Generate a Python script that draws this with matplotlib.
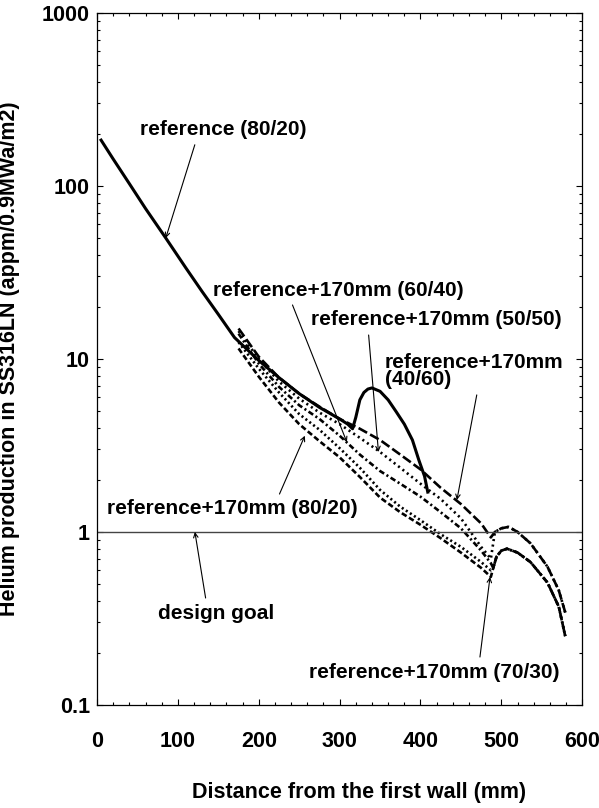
import numpy as np
import matplotlib
matplotlib.use("Agg")
import matplotlib.pyplot as plt
from matplotlib.ticker import MultipleLocator, FixedLocator, FixedFormatter, LogLocator

plt.rcParams['font.family'] = ['Liberation Sans', 'DejaVu Sans']
plt.rcParams['font.weight'] = 'bold'
plt.rcParams['lines.scale_dashes'] = False

# reference blanket (80/20)
ref_x = [5, 20, 40, 60, 85, 110, 130, 150, 170, 200, 225, 250, 275, 300, 310, 316,
         320, 325, 330, 335, 340, 350, 360, 370, 380, 390, 398, 405, 409]
ref_y = [184, 143, 103, 74, 50, 33.5, 24.5, 18.1, 13.3, 9.8, 7.8, 6.3, 5.25, 4.5, 4.2, 3.95,
         4.6, 5.8, 6.4, 6.7, 6.8, 6.5, 5.8, 4.95, 4.2, 3.4, 2.6, 2.1, 1.7]

# reference+170mm, common x up to the step near 490 mm
thick_x = [175, 200, 225, 250, 275, 300, 325, 350, 375, 400, 425, 450, 475, 487]
y_40_60 = [15.0, 10.3, 7.8, 6.3, 5.3, 4.5, 3.95, 3.4, 2.8, 2.3, 1.8, 1.45, 1.12, 0.93]
y_50_50 = [14.5, 10.0, 7.4, 5.9, 4.9, 4.2, 3.5, 2.9, 2.35, 1.9, 1.55, 1.2, 0.82, 0.70]
y_60_40 = [14.0, 9.4, 6.9, 5.4, 4.5, 3.6, 2.8, 2.25, 1.9, 1.6, 1.3, 1.05, 0.78, 0.66]
y_70_30 = [12.5, 8.8, 6.4, 4.8, 3.9, 3.05, 2.35, 1.75, 1.4, 1.17, 0.97, 0.82, 0.67, 0.60]
y_80_20 = [11.5, 7.9, 5.6, 4.2, 3.35, 2.7, 2.08, 1.58, 1.3, 1.1, 0.92, 0.76, 0.62, 0.55]

# tails behind the step (two groups)
upper_tail_x = [492, 500, 509, 520, 536, 557, 571, 580]
upper_tail_y = [1.0, 1.05, 1.07, 1.0, 0.86, 0.63, 0.46, 0.33]
lower_tail_x = [490, 494, 500, 507, 520, 536, 557, 571, 579]
lower_tail_y = [0.62, 0.72, 0.78, 0.80, 0.76, 0.67, 0.51, 0.37, 0.25]

fig = plt.figure(figsize=(5.99, 8.08), dpi=100)
ax = fig.add_axes([0.162, 0.1275, 0.81, 0.8565])

ax.plot(ref_x, ref_y, color='black', lw=2.2, ls='-')

styles = [
    (y_40_60, upper_tail_x, upper_tail_y, (0, (7, 2.5))),
    (y_50_50, upper_tail_x, upper_tail_y, (0, (1.5, 2.5))),
    (y_60_40, lower_tail_x, lower_tail_y, (0, (4, 2, 1.5, 2))),
    (y_70_30, lower_tail_x, lower_tail_y, (0, (1.5, 2))),
    (y_80_20, lower_tail_x, lower_tail_y, (0, (4, 2))),
]
for yv, tx, ty, ls in styles:
    ax.plot(thick_x + tx, yv + ty, color='black', lw=1.9, ls=ls)

# design goal
ax.axhline(1.0, color='#444444', lw=1.0)

ax.set_yscale('log')
ax.set_xlim(0, 600)
ax.set_ylim(0.1, 1000)
ax.yaxis.set_major_locator(FixedLocator([0.1, 1, 10, 100, 1000]))
ax.yaxis.set_major_formatter(FixedFormatter(['0.1', '1', '10', '100', '1000']))
ax.yaxis.set_minor_locator(LogLocator(subs=np.arange(2, 10)))
ax.xaxis.set_major_locator(MultipleLocator(100))
ax.xaxis.set_minor_locator(MultipleLocator(20))
ax.tick_params(which='both', direction='in', top=True, right=True, labelsize=15.5, width=0.8)
ax.tick_params(which='major', length=4)
ax.tick_params(which='minor', length=2.5)
ax.tick_params(axis='x', pad=19)
ax.tick_params(axis='y', pad=5)
for lab in ax.get_xticklabels() + ax.get_yticklabels():
    lab.set_fontweight('bold')
for sp in ax.spines.values():
    sp.set_linewidth(0.9)

ax.set_xlabel('Distance from the first wall (mm)', fontsize=15.5, fontweight='bold')
ax.set_ylabel('Helium production in SS316LN (appm/0.9MWa/m2)', fontsize=15.5, fontweight='bold')
ax.xaxis.set_label_coords(0.54, -0.112)
ax.yaxis.set_label_coords(-0.159, 0.5)

arrow = dict(arrowstyle='->', color='black', lw=0.8, shrinkA=2, shrinkB=0, mutation_scale=8)
labels = [
    ('reference (80/20)', (85, 50), (53, 211), (0.34, 0)),
    ('reference+170mm (60/40)', (309, 3.3), (143, 25), (0.31, 0)),
    ('reference+170mm (50/50)', (348, 2.9), (264, 16.8), (0.23, 0)),
    ('reference+170mm\n(40/60)', (445, 1.53), (356, 8.5), (0.52, 0)),
    ('reference+170mm (80/20)', (257, 3.6), (12, 1.36), (0.68, 1)),
    ('design goal', (121, 1.0), (75, 0.34), (0.42, 1)),
    ('reference+170mm (70/30)', (486, 0.55), (262, 0.155), (0.68, 1)),
]
for txt, tip, pos, rel in labels:
    a = dict(arrow)
    a['relpos'] = rel
    ax.annotate(txt, xy=tip, xytext=pos, ha='left', va='center', fontsize=15,
                fontweight='bold', linespacing=0.9, arrowprops=a)

fig.savefig('out.png', dpi=100)
